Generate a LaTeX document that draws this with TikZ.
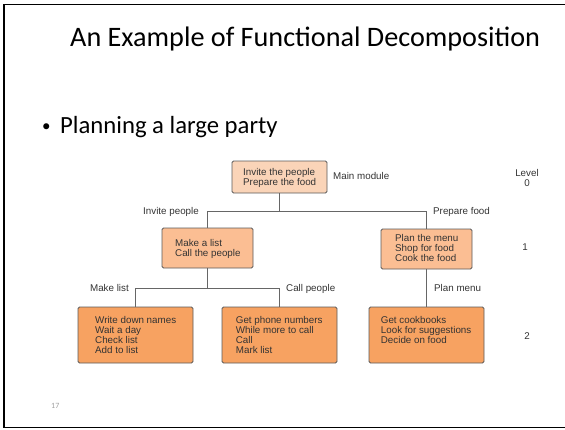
\documentclass[tikz,border=0pt]{standalone}
\usepackage{fontspec}
\setmainfont{Liberation Sans}
\newfontfamily\slidefont{Carlito}
\usetikzlibrary{calc}

\definecolor{textgray}{HTML}{333333}
\definecolor{linegray}{HTML}{666666}
\definecolor{boxedge}{HTML}{5A5A5A}
\definecolor{fillzero}{HTML}{FAD4B8}
\definecolor{fillone}{HTML}{FBBE93}
\definecolor{filltwo}{HTML}{F7A261}
\definecolor{pagenum}{HTML}{A0A0A0}

\begin{document}
\begin{tikzpicture}[x=1pt,y=-1pt,
  box/.style={draw=boxedge, line width=0.8pt, rounded corners=1.5pt, inner sep=0pt},
  % multi-line texts are placed by the baseline of their last line
  boxtext/.style={font=\fontsize{9.8}{10}\selectfont, text=textgray, align=left, inner sep=0pt, anchor=base west},
  lbl/.style={font=\fontsize{9.8}{10}\selectfont, text=textgray, inner sep=0pt},
  link/.style={draw=linegray, line width=0.8pt}]
\useasboundingbox (0,0) rectangle (565,429);

% slide frame
\draw[line width=1.8pt] (566,4.5) -- (4,4.5) -- (4,427.5) -- (566,427.5);

% slide texts
\node[font=\slidefont\fontsize{28.2}{30}\selectfont, anchor=base west, inner sep=0pt] (title) at (70,46.5) {An Example of Functional Decomposition};
\node[font=\slidefont\fontsize{17}{18}\selectfont, anchor=base west, inner sep=0pt] (dot) at (42,131.5) {\textbullet};
\node[font=\slidefont\fontsize{24.7}{27}\selectfont, anchor=base west, inner sep=0pt] (bullet) at (60,133.5) {Planning a large party};
\node[font=\slidefont\fontsize{8}{9}\selectfont, text=pagenum, anchor=base west, inner sep=0pt] (pnum) at (51,408) {17};

% level 0
\node[box, fill=fillzero, minimum width=95, minimum height=32] (main) at (279.5,177) {};
\node[boxtext] (mainT) at (243,185) {Invite the people\\Prepare the food};
\node[lbl, anchor=base west] (mainL) at (333,179.5) {Main module};

% level 1
\node[box, fill=fillone, minimum width=91, minimum height=40] (lista) at (207.5,248) {};
\node[boxtext] (listaT) at (175,256) {Make a list\\Call the people};
\node[box, fill=fillone, minimum width=91, minimum height=40] (menu) at (426.5,249) {};
\node[boxtext] (menuT) at (395,261.3) {Plan the menu\\Shop for food\\Cook the food};

% level 2
\node[box, fill=filltwo, minimum width=115, minimum height=56] (names) at (135.5,335) {};
\node[boxtext] (namesT) at (95,353.3) {Write down names\\Wait a day\\Check list\\Add to list};
\node[box, fill=filltwo, minimum width=115, minimum height=56] (phone) at (279.5,335) {};
\node[boxtext] (phoneT) at (235.7,353.3) {Get phone numbers\\While more to call\\Call\\Mark list};
\node[box, fill=filltwo, minimum width=115, minimum height=56] (cook) at (426.5,335) {};
\node[boxtext] (cookT) at (380.7,343.3) {Get cookbooks\\Look for suggestions\\Decide on food};

% level numbers
\node[lbl, align=center, anchor=base] (lev0) at (527,186.5) {Level\\0};
\node[lbl, anchor=base] (lev1) at (525,250.5) {1};
\node[lbl, anchor=base] (lev2) at (527,339.5) {2};

% connectors
\draw[link] (main.south) -- ++(0,17.5) coordinate (j0);
\draw[link] (lista.north) |- (j0) -| (menu.north);
\draw[link] (lista.south) -- ++(0,20) coordinate (j1);
\draw[link] (names.north) |- (j1) -| (phone.north);
\draw[link] (menu.south) -- (cook.north);

% connector labels
\node[lbl, anchor=base east] (invL) at (199,214) {Invite people};
\node[lbl, anchor=base west] (prepL) at (433,214) {Prepare food};
\node[lbl, anchor=base east] (makeL) at (129,291) {Make list};
\node[lbl, anchor=base west] (callL) at (286,291) {Call people};
\node[lbl, anchor=base west] (planL) at (434,291) {Plan menu};
\end{tikzpicture}
\end{document}
